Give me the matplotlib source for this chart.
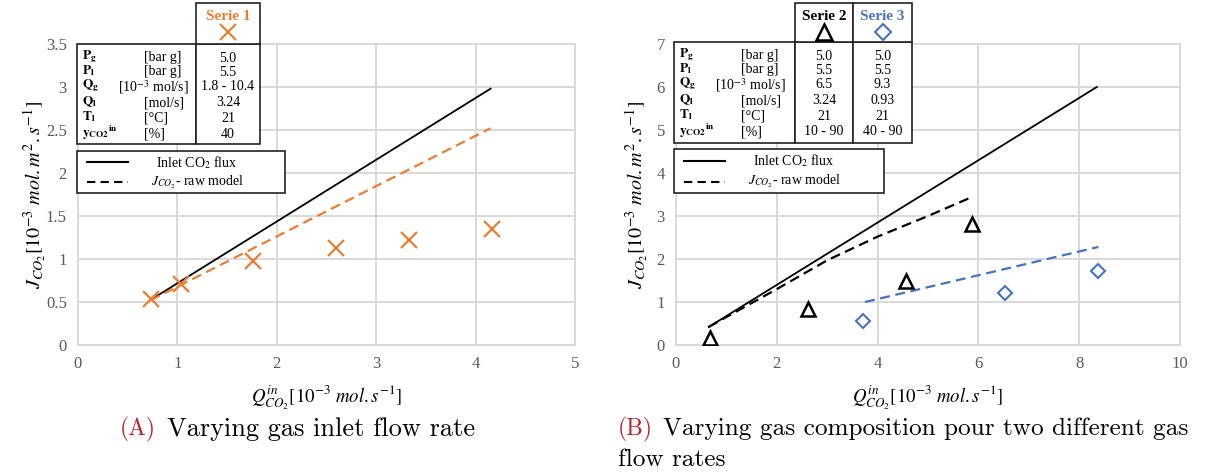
import matplotlib
matplotlib.use('Agg')
import matplotlib.pyplot as plt
from matplotlib.patches import Rectangle
from matplotlib.lines import Line2D

# ---- data ----
s1_x = [0.73, 1.04, 1.76, 2.60, 3.33, 4.17]
s1_y = [0.53, 0.71, 0.98, 1.13, 1.22, 1.35]
inlet_a_x = [0.78, 4.15]
inlet_a_y = [0.56, 2.98]
model_a_x = [0.73, 4.15]
model_a_y = [0.52, 2.52]

s2_x = [0.67, 2.61, 4.57, 5.88]
s2_y = [0.17, 0.84, 1.49, 2.81]
s3_x = [3.72, 6.53, 8.37]
s3_y = [0.55, 1.20, 1.72]
inlet_b_x = [0.65, 8.35]
inlet_b_y = [0.42, 6.0]
model2_x = [0.65, 1.0, 2.0, 3.0, 4.0, 5.0, 5.85]
model2_y = [0.42, 0.65, 1.30, 1.97, 2.52, 3.00, 3.43]
model3_x = [3.75, 8.38]
model3_y = [1.00, 2.28]

row_syms = [r'$\mathbf{P_g}$', r'$\mathbf{P_l}$', r'$\mathbf{Q_g}$',
            r'$\mathbf{Q_l}$', r'$\mathbf{T_l}$', r'$\mathbf{y_{CO2}}^{\mathbf{in}}$']
row_units = ['[bar g]', '[bar g]', r'[10$^{-3}$ mol/s]', '[mol/s]', '[°C]', '[%]']
serie1_vals = ['5.0', '5.5', '1.8 - 10.4', '3.24', '21', '40']
serie2_vals = ['5.0', '5.5', '6.5', '3.24', '21', '10 - 90']
serie3_vals = ['5.0', '5.5', '9.3', '0.93', '21', '40 - 90']

ORANGE = '#ED7D31'
BLUE = '#4472C4'
GRID = '#d9d9d9'
TICK = '#595959'

plt.rcParams.update({
    'font.family': ['Liberation Serif', 'DejaVu Serif'],
    'mathtext.fontset': 'stix',
})

W, H = 1211, 474
fig = plt.figure(figsize=(W / 100, H / 100), dpi=100)


def fx(px):
    return px / W


def fy(py):
    return 1 - py / H


def style_axes(ax, xmax, xstep, ymax, ystep):
    ax.set_xlim(0, xmax)
    ax.set_ylim(0, ymax)
    ax.set_xticks([i * xstep for i in range(int(round(xmax / xstep)) + 1)])
    ax.set_yticks([i * ystep for i in range(int(round(ymax / ystep)) + 1)])
    ax.xaxis.set_major_formatter(matplotlib.ticker.FuncFormatter(lambda v, p: f'{v:g}'))
    ax.yaxis.set_major_formatter(matplotlib.ticker.FuncFormatter(lambda v, p: f'{v:g}'))
    for s in ax.spines.values():
        s.set_visible(False)
    ax.grid(True, color=GRID, linewidth=1.4)
    for gl in ax.get_xgridlines() + ax.get_ygridlines():
        gl.set_clip_on(False)
    ax.set_axisbelow(True)
    ax.tick_params(length=0, labelsize=12, colors=TICK, pad=8)
    ax.set_xlabel(r'$Q^{in}_{CO_2}[10^{-3}\ mol.s^{-1}]$', fontsize=13.5)
    ax.set_ylabel(r'$J_{CO_2}[10^{-3}\ mol.m^2.s^{-1}]$', fontsize=14.5)


# ---- panel A ----
axA = fig.add_axes([fx(78), fy(345), fx(575 - 78), (345 - 44) / H])
style_axes(axA, 5, 1, 3.5, 0.5)
axA.plot(inlet_a_x, inlet_a_y, color='black', lw=1.3)
axA.plot(model_a_x, model_a_y, color=ORANGE, lw=1.6, ls=(0, (4.5, 2.5)))
axA.plot(s1_x, s1_y, ls='none', marker='x', ms=11, mew=1.6, color=ORANGE)
axA.xaxis.set_label_coords(0.5, -0.13)
axA.yaxis.set_label_coords(-0.06, 0.5)

# ---- panel B ----
axB = fig.add_axes([fx(676), fy(345), fx(1180 - 676), (345 - 44) / H])
style_axes(axB, 10, 2, 7, 1)
axB.plot(inlet_b_x, inlet_b_y, color='black', lw=1.3)
axB.plot(model2_x, model2_y, color='black', lw=1.6, ls=(0, (4.5, 2.5)))
axB.plot(model3_x, model3_y, color=BLUE, lw=1.6, ls=(0, (4.5, 2.5)))
axB.plot(s2_x, s2_y, ls='none', marker='^', ms=10, mew=1.8, mfc='none', color='black')
axB.plot(s3_x, s3_y, ls='none', marker='D', ms=7.5, mew=1.5, mfc='none', color=BLUE)
axB.xaxis.set_label_coords(0.5, -0.13)
axB.yaxis.set_label_coords(-0.052, 0.5)


def box(x0, y0, x1, y1, lw=1.2):
    fig.add_artist(Rectangle((fx(x0), fy(y1)), fx(x1 - x0), (y1 - y0) / H,
                             transform=fig.transFigure, facecolor='white',
                             edgecolor='#222222', lw=lw, zorder=5))


def txt(x, y, s, **kw):
    kw.setdefault('fontsize', 10)
    kw.setdefault('va', 'center')
    fig.text(fx(x), fy(y), s, zorder=6, **kw)


def header_marker(x, y, **kw):
    fig.add_artist(Line2D([fx(x)], [fy(y)], transform=fig.transFigure,
                          ls='none', zorder=6, **kw))


row_y = [58, 72, 87, 103, 118, 134]


def param_table(x0, x1, top, bottom, unit_x, cols):
    box(x0, top, x1, bottom)
    for i, (sym, unit) in enumerate(zip(row_syms, row_units)):
        y = row_y[i] - 44 + top
        txt(x0 + 5, y - 1, sym, fontsize=9.5)
        ux = unit_x - 26 if i == 2 else unit_x
        txt(ux, y, unit)
    for (cx0, cx1, vals, name, color, mk) in cols:
        box(cx0, top, cx1, bottom)
        box(cx0, 3, cx1, top)
        for i, v in enumerate(vals):
            txt((cx0 + cx1) / 2, row_y[i] - 44 + top, v, ha='center')
        txt((cx0 + cx1) / 2, 17, name, ha='center', color=color,
            fontweight='bold', fontsize=11)
        header_marker((cx0 + cx1) / 2, 32, color=color, **mk)


def legend_box(x0, x1, top, bottom, model_color='black'):
    box(x0, top, x1, bottom)
    y1 = top + (bottom - top) * 0.27
    y2 = top + (bottom - top) * 0.74
    fig.add_artist(Line2D([fx(x0 + 10), fx(x0 + 51)], [fy(y1), fy(y1)],
                          transform=fig.transFigure, color='black', lw=1.5, zorder=6))
    fig.add_artist(Line2D([fx(x0 + 10), fx(x0 + 51)], [fy(y2), fy(y2)],
                          transform=fig.transFigure, color=model_color, lw=1.5,
                          ls=(0, (4, 2.5)), zorder=6))
    cx = x0 + 120
    txt(cx, y1, r'Inlet CO$_2$ flux', ha='center')
    txt(cx, y2, r'$J_{CO_2}$- raw model', ha='center')


param_table(77, 196, 44, 144, 144,
            [(196, 260, serie1_vals, 'Serie 1', ORANGE,
              dict(marker='x', ms=12, mew=1.6))])
legend_box(77, 285, 151, 193)

param_table(674, 795, 42, 143, 741,
            [(795, 853, serie2_vals, 'Serie 2', 'black',
              dict(marker='^', ms=11, mew=1.8, mfc='none')),
             (853, 912, serie3_vals, 'Serie 3', BLUE,
              dict(marker='D', ms=8, mew=1.5, mfc='none'))])
legend_box(674, 884, 149, 193)

# ---- captions ----
CAP = dict(family='cmr10', va='center')
RED = '#c0202a'
fig.text(fx(120), fy(429), '(A)', color=RED, fontsize=17, **CAP)
fig.text(fx(167), fy(429), 'Varying gas inlet flow rate', fontsize=19, **CAP)
fig.text(fx(618), fy(429), '(B)', color=RED, fontsize=17, **CAP)
fig.text(fx(663), fy(429), 'Varying gas composition pour two different gas',
         fontsize=18.2, **CAP)
fig.text(fx(618), fy(460), 'flow rates', fontsize=18.2, **CAP)

fig.savefig('out.png', dpi=100)
